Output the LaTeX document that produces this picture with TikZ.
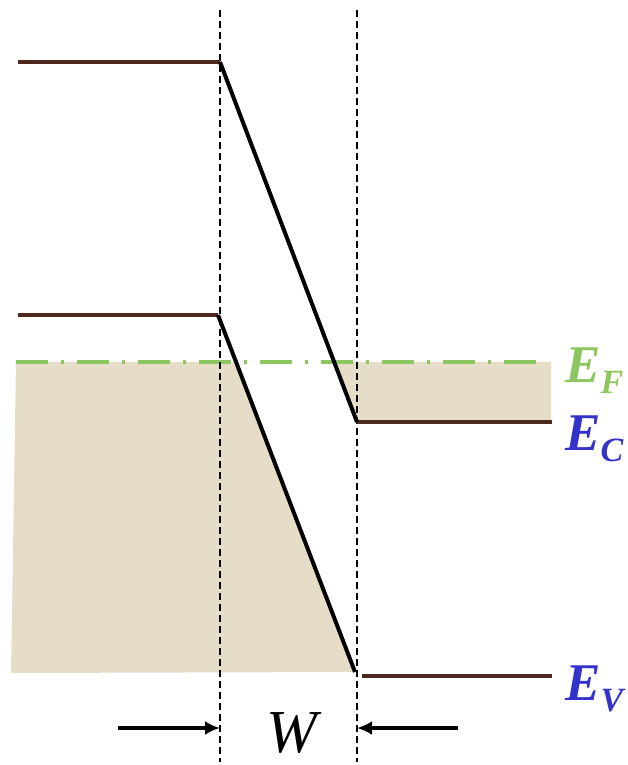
\documentclass[tikz,border=0pt]{standalone}
\usepackage{fontspec}
\setmainfont{Liberation Serif}
\usetikzlibrary{arrows.meta}
\definecolor{lvl}{HTML}{4E2A1E}
\definecolor{fillc}{HTML}{E5DDC8}
\definecolor{ef}{HTML}{8CC65E}
\definecolor{eb}{HTML}{3333CC}
\tikzset{
  level/.style={draw=lvl,line width=4pt},
  band/.style={draw=black,line width=4pt},
  guide/.style={draw=black,line width=1.7pt,dash pattern=on 7pt off 4pt},
  fermi/.style={draw=ef,line width=4pt,dash pattern=on 32pt off 13pt on 3pt off 13pt},
  warrow/.style={draw=black,line width=4pt,-{Latex[length=15pt,width=14pt]}},
  elabel/.style={font=\fontsize{53}{56}\selectfont\bfseries\itshape,anchor=base west,inner sep=0pt},
}
\newcommand{\esub}[1]{E\kern0pt\raisebox{-11pt}{\fontsize{34}{36}\selectfont #1}}
\begin{document}
\begin{tikzpicture}[x=1pt,y=-1pt]
\useasboundingbox (0,0) rectangle (627,765);
% coordinates
\coordinate (g1t) at (220,10); \coordinate (g1b) at (220,762);
\coordinate (g2t) at (357,10); \coordinate (g2b) at (357,762);
\coordinate (cl0) at (18,62);  \coordinate (cl1) at (220,62);
\coordinate (cr0) at (357,422); \coordinate (cr1) at (552,422);
\coordinate (vl0) at (18,315); \coordinate (vl1) at (218,315);
\coordinate (vr0) at (355,672); \coordinate (vr1) at (362,676); \coordinate (vr2) at (552,676);
\coordinate (f0) at (16,362); \coordinate (f1) at (548,362);
% fills
\fill[fillc] (16,362) -- (236,362) -- (vr0) -- (11,673) -- cycle;
\fill[fillc] (334,362) -- (551,362) -- (551,422) -- (cr0) -- cycle;
% fermi level
\draw[fermi] (f0) -- (f1);
% guides
\draw[guide] (g1t) -- (g1b);
\draw[guide] (g2t) -- (g2b);
% levels
\draw[level] (cl0) -- (cl1);
\draw[level] (vl0) -- (vl1);
\draw[level] (cr0) -- (cr1);
\draw[level] (vr1) -- (vr2);
% bands
\draw[band,line join=round] (cl1) -- (cr0);
\draw[band,line join=round] (vl1) -- (vr0);
% arrows
\coordinate (a1s) at (118,728); \coordinate (a1e) at (220,728);
\coordinate (a2s) at (458,728); \coordinate (a2e) at (357,728);
\draw[warrow] (a1s) -- (a1e);
\draw[warrow] (a2s) -- (a2e);
% labels
\node[font=\fontsize{61}{64}\selectfont\itshape,inner sep=0pt] (w) at (292,733) {W};
\node[elabel,text=ef] (efl) at (565,382) {\esub{F}};
\node[elabel,text=eb] (ecl) at (565,450) {\esub{C}};
\node[elabel,text=eb] (evl) at (565,700) {\esub{V}};
\end{tikzpicture}
\end{document}
